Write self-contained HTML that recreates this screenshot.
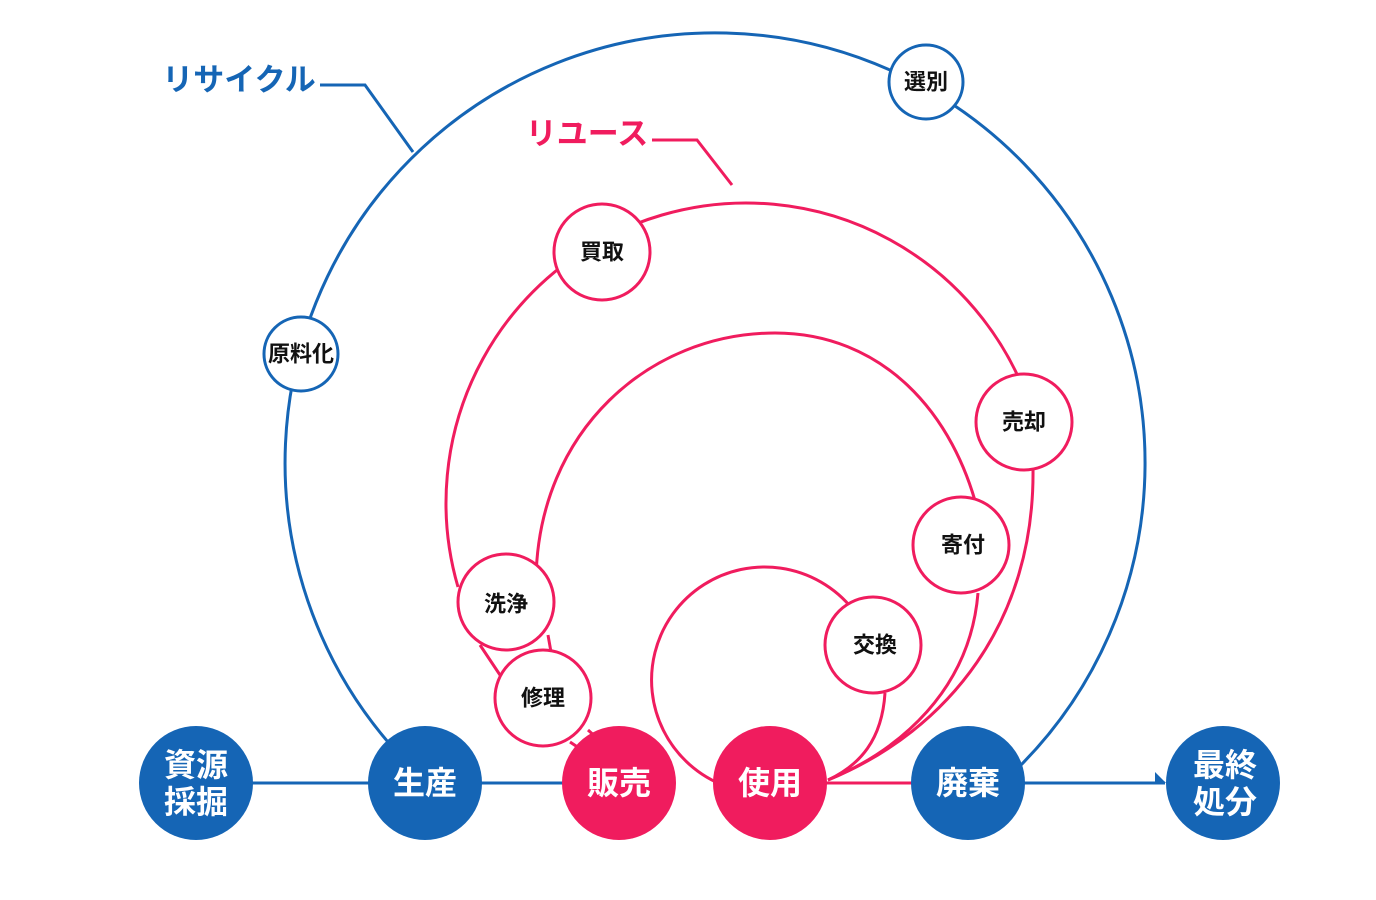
<!DOCTYPE html>
<html><head><meta charset="utf-8"><style>
body{margin:0;background:#fff}
svg{display:block}
text{font-family:"Liberation Sans","Noto Sans CJK JP",sans-serif;font-weight:bold;text-anchor:middle;dominant-baseline:central}
</style></head><body>
<svg width="1376" height="900" viewBox="0 0 1376 900">
<g fill="none" stroke-width="3">
<path d="M395 750 A430 430 0 1 1 1020 766" stroke="#1565b5"/>
<path d="M320 85 H365 L413 152" stroke="#1565b5"/>
<path d="M652 140 H697 L732 185" stroke="#f01c5e"/>
<g stroke="#f01c5e">
<path d="M458 587 A300 300 0 0 1 1034 419"/>
<path d="M1033 468 C1035 620 950 730 828 780"/>
<path d="M536 580 C538 430 650 333 775 333 C880 333 955 410 980 520"/>
<path d="M978 593 C970 690 900 750 828 780"/>
<path d="M765 793 A113 113 0 1 1 872 645"/>
<path d="M885 693 C882 740 860 765 828 780"/>
<path d="M480 645 L500 675"/>
<path d="M548 635 L551 652"/>
<path d="M570 742 L582 750"/>
<path d="M588 730 L598 739"/>
<path d="M800 783 H915"/>
</g>
<path d="M250 783 H620 M1020 783 H1165" stroke="#1565b5"/>
</g>
<path d="M1155 772 L1166 783 L1155 783 Z" fill="#1565b5"/>
<g stroke="#1565b5" stroke-width="3" fill="#fff">
<circle cx="301" cy="354" r="37"/><circle cx="926" cy="82" r="37"/>
</g>
<g stroke="#f01c5e" stroke-width="3" fill="#fff">
<circle cx="602" cy="252" r="48"/><circle cx="1024" cy="422" r="48"/>
<circle cx="961" cy="545" r="48"/><circle cx="873" cy="645" r="48"/>
<circle cx="506" cy="602" r="48"/><circle cx="543" cy="698" r="48"/>
</g>
<g fill="#1565b5">
<circle cx="196" cy="783" r="57"/><circle cx="425" cy="783" r="57"/>
<circle cx="968" cy="783" r="57"/><circle cx="1223" cy="783" r="57"/>
</g>
<g fill="#f01c5e"><circle cx="619" cy="783" r="57"/><circle cx="770" cy="783" r="57"/></g>
<g fill="#fff" font-size="32">
<text x="196" y="765">資源</text><text x="196" y="802">採掘</text>
<text x="425" y="783">生産</text><text x="619" y="783">販売</text>
<text x="770" y="783">使用</text><text x="968" y="783">廃棄</text>
<text x="1225" y="765">最終</text><text x="1225" y="802">処分</text>
</g>
<g fill="#111" font-size="22">
<text x="301" y="354">原料化</text><text x="926" y="82">選別</text>
<text x="602" y="252">買取</text><text x="1024" y="422">売却</text>
<text x="963" y="545">寄付</text><text x="875" y="645">交換</text>
<text x="506" y="604">洗浄</text><text x="543" y="698">修理</text>
</g>
<text x="239" y="80" font-size="31" fill="#1565b5">リサイクル</text>
<text x="587" y="134" font-size="31" fill="#f01c5e">リユース</text>
</svg>
</body></html>
